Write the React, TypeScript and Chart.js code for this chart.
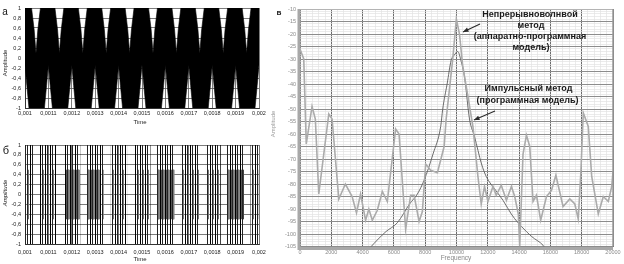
import React, { useEffect, useRef } from "react";
import { Chart, registerables } from "chart.js";

Chart.register(...registerables);

const FONT = "'Liberation Sans', Arial, sans-serif";

// ---------- Panel а : continuous-wave time signal ----------
const aTimeMin = 0.001;
const aTimeMax = 0.002;
const aTopNotchTimes = [0.001047, 0.001147, 0.001247, 0.001347, 0.001447, 0.001547, 0.001647, 0.001747, 0.001847, 0.001947];
const aTopNotchOffsets = [-0.000019, -0.0000078, 0, 0.0000078, 0.000019];
const aTopNotchLevels = [1, 0.56, 0.1, 0.56, 1];
const aBottomNotchTimes = [0.001, 0.0011, 0.0012, 0.0013, 0.0014, 0.0015, 0.0016, 0.0017, 0.0018, 0.0019, 0.002];
const aBottomNotchOffsets = [-0.000017, -0.0000078, 0, 0.0000078, 0.000017];
const aBottomNotchLevels = [-1, -0.55, -0.14, -0.55, -1];

// ---------- Panel б : pulse time signal (bursts of samples) ----------
const bFullStart = [0.001002, 0.001063, 0.001163, 0.001263, 0.001366, 0.001463, 0.001563, 0.001666, 0.001773, 0.001863, 0.001963];
const bFullEnd = [0.001037, 0.001137, 0.001237, 0.00134, 0.001437, 0.001537, 0.00164, 0.001747, 0.001837, 0.001937, 0.002];
const bFullLevel = 1;
const bMidStart = [0.001004, 0.001066, 0.001166, 0.001266, 0.001369, 0.001466, 0.001566, 0.001669, 0.001776, 0.001866, 0.001966];
const bMidEnd = [0.001035, 0.001134, 0.001234, 0.001337, 0.001434, 0.001534, 0.001637, 0.001744, 0.001834, 0.001934, 0.001998];
const bMidLevel = 0.5;
const bDenseStart = [0.001175, 0.001266, 0.001567, 0.001866];
const bDenseEnd = [0.001236, 0.001325, 0.00164, 0.001936];

// ---------- Panel в : spectra ----------
const cwFreq = [0, 240, 400, 770, 980, 1200, 1840, 2050, 2480, 2900, 3330, 3610, 3870, 4190, 4400, 4620, 4940, 5260, 5580, 6110, 6330, 6750, 7070, 7290, 7610, 7820, 8030, 8350, 8780, 9210, 9340, 9760, 9990, 10190, 10400, 10730, 11050, 11370, 11580, 11790, 12010, 12330, 12540, 12860, 13190, 13510, 13720, 13950, 14040, 14250, 14470, 14680, 14890, 15110, 15380, 15750, 16070, 16350, 16810, 17240, 17560, 17780, 17950, 18100, 18420, 18640, 19060, 19380, 19700, 19920, 20000];
const cwDb = [-26, -30, -64, -49, -54, -84, -52, -54, -86, -80, -85, -91.5, -84, -94.5, -90, -94.5, -90.5, -83, -87, -58, -60, -98, -84.5, -84.5, -95, -91, -72, -74.5, -75.5, -65, -54, -30, -14, -20, -33, -45, -57, -77, -88, -81, -87, -81, -84.5, -80.5, -86.5, -81, -85, -92, -105, -68, -60.5, -65, -87, -84.5, -94.5, -85, -82.5, -76.5, -89, -86, -88, -94, -75, -51.5, -57, -77, -92, -85, -87, -81, -75];
const pulseFreq = [4400, 5000, 5500, 6220, 7000, 7500, 7930, 8500, 8990, 9120, 9400, 9660, 9850, 10080, 10300, 10510, 10830, 11150, 11600, 11900, 12500, 12970, 13500, 13930, 14150, 14800, 15530, 15700];
const pulseDb = [-106, -102, -99, -95.5, -88, -84, -78.5, -68, -57, -50, -40, -30.5, -28.5, -27, -31, -37, -54, -61, -72, -77, -82.5, -86.5, -92, -95.5, -97, -101, -104.5, -106];

type Label = { text: string; x: number; y: number; size: number; color: string; bold?: boolean; rotate?: boolean; italic?: boolean };

function drawArrow(ctx: CanvasRenderingContext2D, x1: number, y1: number, x2: number, y2: number) {
  ctx.beginPath();
  ctx.moveTo(x1, y1);
  ctx.lineTo(x2, y2);
  ctx.stroke();
  const ang = Math.atan2(y2 - y1, x2 - x1);
  const L = 5.5, W = 2.3;
  ctx.beginPath();
  ctx.moveTo(x2, y2);
  ctx.lineTo(x2 - L * Math.cos(ang) + W * Math.sin(ang), y2 - L * Math.sin(ang) - W * Math.cos(ang));
  ctx.lineTo(x2 - L * Math.cos(ang) - W * Math.sin(ang), y2 - L * Math.sin(ang) + W * Math.cos(ang));
  ctx.closePath();
  ctx.fill();
}

function labelsPlugin(id: string, labels: Label[], arrows: number[][] = []) {
  return {
    id,
    afterDraw(chart: any) {
      const ctx: CanvasRenderingContext2D = chart.ctx;
      ctx.save();
      for (const l of labels) {
        ctx.save();
        ctx.font = `${l.italic ? "italic " : ""}${l.bold ? "bold " : ""}${l.size}px ${FONT}`;
        ctx.fillStyle = l.color;
        ctx.textAlign = "center";
        ctx.textBaseline = "middle";
        ctx.translate(l.x, l.y);
        if (l.rotate) ctx.rotate(-Math.PI / 2);
        ctx.fillText(l.text, 0, 0);
        ctx.restore();
      }
      ctx.strokeStyle = "#2a2a2a";
      ctx.fillStyle = "#2a2a2a";
      ctx.lineWidth = 1.1;
      for (const [x1, y1, x2, y2] of arrows) drawArrow(ctx, x1, y1, x2, y2);
      ctx.restore();
    },
  };
}

function commaNum(v: number, digits: number) {
  const n = parseFloat(v.toFixed(digits));
  return String(n === 0 ? 0 : n).replace(".", ",");
}

function buildEnvelope(centers: number[], offsets: number[], levels: number[], base: number | null) {
  const pts: { x: number; y: number }[] = [];
  if (base !== null) pts.push({ x: aTimeMin, y: base });
  for (const c of centers) for (let i = 0; i < offsets.length; i++) pts.push({ x: c + offsets[i], y: levels[i] });
  if (base !== null) pts.push({ x: aTimeMax, y: base });
  pts.sort((p, q) => p.x - q.x);
  return pts;
}

// vertical stripe texture: one 1px line per listed column, repeating every `pitch` px
function stripePattern(pitch: number, cols: number[], colors: string[]) {
  const c = document.createElement("canvas");
  c.width = pitch;
  c.height = 4;
  const g = c.getContext("2d")!;
  cols.forEach((col, i) => {
    g.fillStyle = colors[i];
    g.fillRect(col, 0, 1, 4);
  });
  return g.createPattern(c, "repeat")!;
}

function timeScales(xAxisHeight: number, xPad: number) {
  const tickFont = { family: FONT, size: 5.5 };
  return {
    x: {
      type: "linear" as const,
      min: aTimeMin,
      max: aTimeMax,
      ticks: {
        stepSize: 0.0001,
        autoSkip: false,
        maxRotation: 0,
        padding: xPad,
        color: "#222",
        font: tickFont,
        callback: (v: any) => commaNum(Number(v), 5),
      },
      grid: { color: "#5a5a5a", lineWidth: 0.8, drawTicks: false },
      border: { display: true, color: "#333", width: 1 },
      afterFit: (s: any) => {
        s.height = xAxisHeight;
      },
    },
    y: {
      min: -1,
      max: 1,
      ticks: {
        stepSize: 0.2,
        autoSkip: false,
        padding: 4,
        color: "#222",
        font: tickFont,
        callback: (v: any) => commaNum(Number(v), 1),
      },
      grid: { color: "#5a5a5a", lineWidth: 0.8, drawTicks: false },
      border: { display: true, color: "#333", width: 1 },
      afterFit: (s: any) => {
        s.width = 25;
      },
    },
  };
}

const baseOpts = {
  responsive: false,
  animation: false as const,
  devicePixelRatio: 1,
  events: [] as any[],
};

function makeChartA(canvas: HTMLCanvasElement) {
  const upper = buildEnvelope(aTopNotchTimes, aTopNotchOffsets, aTopNotchLevels, 1);
  const lower = buildEnvelope(aBottomNotchTimes, aBottomNotchOffsets, aBottomNotchLevels, null);
  return new Chart(canvas, {
    type: "line",
    data: {
      datasets: [
        { data: upper, fill: "origin", backgroundColor: "#000", borderColor: "#000", borderWidth: 0.6, pointRadius: 0, tension: 0 },
        { data: lower, fill: "origin", backgroundColor: "#000", borderColor: "#000", borderWidth: 0.6, pointRadius: 0, tension: 0 },
      ],
    },
    options: {
      ...baseOpts,
      layout: { padding: { left: 0, right: 13, top: 8, bottom: 0 } },
      plugins: { legend: { display: false }, tooltip: { enabled: false } },
      scales: timeScales(24, 2) as any,
    },
    plugins: [
      labelsPlugin("labelsA", [
        { text: "а", x: 5, y: 12, size: 10, color: "#111" },
        { text: "Amplitude", x: 5, y: 63, size: 6, color: "#222", rotate: true },
        { text: "Time", x: 140, y: 122, size: 6, color: "#222" },
      ]),
    ],
  });
}

function makeChartB(canvas: HTMLCanvasElement) {
  const fullPat = stripePattern(5, [0, 2], ["#000", "#222"]);
  const midPat = stripePattern(5, [3], ["#7a7a7a"]);
  const densePat = stripePattern(5, [1, 3, 4], ["#555", "#2a2a2a", "#888"]);
  const datasets: any[] = [];
  const addBlocks = (starts: number[], ends: number[], level: number, pat: CanvasPattern) => {
    starts.forEach((s, i) => {
      datasets.push({
        data: [{ x: s, y: level }, { x: ends[i], y: level }],
        fill: "+1",
        backgroundColor: pat,
        borderWidth: 0,
        pointRadius: 0,
      });
      datasets.push({
        data: [{ x: s, y: -level }, { x: ends[i], y: -level }],
        fill: false,
        borderWidth: 0,
        pointRadius: 0,
      });
    });
  };
  addBlocks(bFullStart, bFullEnd, bFullLevel, fullPat);
  addBlocks(bMidStart, bMidEnd, bMidLevel, midPat);
  addBlocks(bDenseStart, bDenseEnd, bMidLevel, densePat);
  return new Chart(canvas, {
    type: "line",
    data: { datasets },
    options: {
      ...baseOpts,
      layout: { padding: { left: 0, right: 13, top: 13, bottom: 0 } },
      plugins: { legend: { display: false }, tooltip: { enabled: false } },
      scales: timeScales(20, 5) as any,
    },
    plugins: [
      labelsPlugin("labelsB", [
        { text: "б", x: 6, y: 19, size: 11, color: "#111" },
        { text: "Amplitude", x: 5, y: 61, size: 6, color: "#222", rotate: true, italic: true },
        { text: "Time", x: 140, y: 127, size: 6, color: "#222" },
      ]),
    ],
  });
}

const borderPluginC = {
  id: "borderC",
  afterDatasetsDraw(chart: any) {
    const { ctx, chartArea: a } = chart;
    ctx.save();
    ctx.strokeStyle = "#b4b4b4";
    ctx.lineWidth = 1;
    ctx.beginPath();
    ctx.moveTo(a.left, a.top + 0.5);
    ctx.lineTo(a.right, a.top + 0.5);
    ctx.stroke();
    ctx.strokeStyle = "#9a9a9a";
    ctx.lineWidth = 1.5;
    ctx.beginPath();
    ctx.moveTo(a.right, a.top);
    ctx.lineTo(a.right, a.bottom);
    ctx.stroke();
    ctx.strokeStyle = "#a8a8a8";
    ctx.lineWidth = 3;
    ctx.beginPath();
    ctx.moveTo(a.left - 1, a.top);
    ctx.lineTo(a.left - 1, a.bottom + 2);
    ctx.lineTo(a.right, a.bottom + 2);
    ctx.stroke();
    ctx.restore();
  },
};

function makeChartC(canvas: HTMLCanvasElement) {
  const tickFont = { family: FONT, size: 5.5 };
  const cwData = cwFreq.map((f, i) => ({ x: f, y: cwDb[i] }));
  const pulseData = pulseFreq.map((f, i) => ({ x: f, y: pulseDb[i] }));
  return new Chart(canvas, {
    type: "line",
    data: {
      datasets: [
        { data: cwData, borderColor: "#ababab", borderWidth: 1.6, pointRadius: 0, tension: 0, fill: false },
        { data: pulseData, borderColor: "#5e5e5e", borderWidth: 0.9, pointRadius: 0, cubicInterpolationMode: "monotone", fill: false },
      ],
    },
    options: {
      ...baseOpts,
      layout: { padding: { left: 0, right: 11, top: 9, bottom: 0 } },
      plugins: { legend: { display: false }, tooltip: { enabled: false } },
      scales: {
        x: {
          type: "linear",
          min: 0,
          max: 20000,
          ticks: {
            stepSize: 400,
            autoSkip: false,
            maxRotation: 0,
            padding: 3,
            color: "#8a8a8a",
            font: tickFont,
            callback: (v: any) => (Math.round(Number(v)) % 2000 === 0 ? String(Math.round(Number(v))) : ""),
          },
          grid: {
            drawTicks: false,
            color: (c: any) => (Math.round(c.tick.value) % 2000 === 0 ? "#6a6a6a" : "#e3e3e3"),
            lineWidth: (c: any) => (Math.round(c.tick.value) % 2000 === 0 ? 1 : 0.7),
          },
          border: { display: false },
          afterFit: (s: any) => {
            s.height = 17.5;
          },
        },
        y: {
          min: -105,
          max: -10,
          ticks: {
            stepSize: 1,
            autoSkip: false,
            padding: 4,
            color: "#8a8a8a",
            font: tickFont,
            callback: (v: any) => (Math.round(Number(v)) % 5 === 0 ? String(Math.round(Number(v))) : ""),
          },
          grid: {
            drawTicks: false,
            color: (c: any) => (Math.round(c.tick.value) % 5 === 0 ? "#8c8c8c" : "#e3e3e3"),
            lineWidth: (c: any) => (Math.round(c.tick.value) % 5 === 0 ? 1 : 0.7),
          },
          border: { display: false },
          afterFit: (s: any) => {
            s.width = 38;
          },
        },
      } as any,
    },
    plugins: [
      borderPluginC,
      labelsPlugin(
        "labelsC",
        [
          { text: "в", x: 17, y: 13, size: 8, color: "#222", bold: true },
          { text: "Amplitude", x: 11, y: 124, size: 6, color: "#999", rotate: true },
          { text: "Frequency", x: 194, y: 258, size: 6.5, color: "#888" },
          { text: "Непрерывноволнвой", x: 268, y: 15, size: 9, color: "#1a1a1a", bold: true },
          { text: "метод", x: 269, y: 26, size: 9, color: "#1a1a1a", bold: true },
          { text: "(аппаратно-программная", x: 268, y: 37, size: 9, color: "#1a1a1a", bold: true },
          { text: "модель)", x: 269, y: 48, size: 9, color: "#1a1a1a", bold: true },
          { text: "Импульсный метод", x: 266.5, y: 89, size: 9, color: "#1a1a1a", bold: true },
          { text: "(программная модель)", x: 265.5, y: 101, size: 9, color: "#1a1a1a", bold: true },
        ],
        [
          [218, 24, 201, 32],
          [233, 111, 212, 120],
        ]
      ),
    ],
  });
}

function ChartCanvas(props: { left: number; top: number; width: number; height: number; make: (c: HTMLCanvasElement) => Chart }) {
  const ref = useRef<HTMLCanvasElement>(null);
  useEffect(() => {
    const chart = props.make(ref.current!);
    return () => chart.destroy();
  }, []);
  return (
    <canvas
      ref={ref}
      width={props.width}
      height={props.height}
      style={{ position: "absolute", left: props.left, top: props.top, width: props.width, height: props.height }}
    />
  );
}

export default function App() {
  return (
    <div style={{ position: "fixed", left: 0, top: 0, width: 624, height: 264, background: "#fff", overflow: "hidden" }}>
      <ChartCanvas left={0} top={0} width={272} height={132} make={makeChartA} />
      <ChartCanvas left={0} top={132} width={272} height={132} make={makeChartB} />
      <ChartCanvas left={262} top={0} width={362} height={264} make={makeChartC} />
    </div>
  );
}
